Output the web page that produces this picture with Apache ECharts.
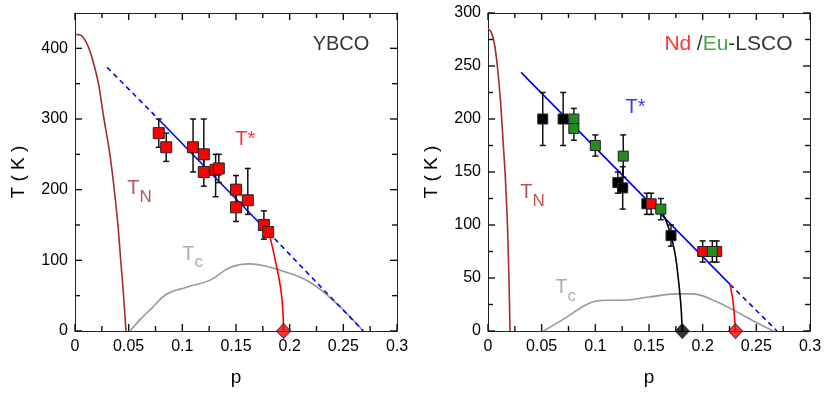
<!DOCTYPE html>
<html>
<head>
<meta charset="utf-8">
<script src="https://cdn.jsdelivr.net/npm/echarts@6/dist/echarts.min.js"></script>
<style>
  html, body { margin: 0; padding: 0; background: #fff; }
  #chart { width: 830px; height: 393px; }
</style>
</head>
<body>
<div id="chart"></div>
<script>
// tick values
var xMajorTicks = [0, 0.05, 0.1, 0.15, 0.2, 0.25, 0.3];
var xMinorTicks = [0.025, 0.075, 0.125, 0.175, 0.225, 0.275];
var yMajorLeft = [0, 100, 200, 300, 400];
var yMinorLeft = [50, 150, 250, 350];
var yMajorRight = [0, 50, 100, 150, 200, 250, 300];
var yMinorRight = [25, 75, 125, 175, 225, 275];

// ---- YBCO (left panel) ----
var ybcoP  = [0.078, 0.085, 0.110, 0.120, 0.120, 0.131, 0.134, 0.150, 0.150, 0.161, 0.176, 0.180];
var ybcoT  = [280, 260, 260, 250, 225, 228, 230, 200, 175, 185, 150, 140];
var ybcoLo = [260, 240, 225, 225, 205, 190, 210, 180, 155, 165, 130, 140];
var ybcoHi = [300, 280, 300, 300, 245, 250, 250, 220, 195, 230, 170, 140];
var ybcoDiamond = [[0.1944, 0]];
var ybcoStarDashA = [[0.030, 373], [0.0776, 300]];
var ybcoStarSolid = [[0.0776, 300], [0.180, 140]];
var ybcoStarDashB = [[0.180, 140], [0.2686, 0]];
var ybcoStarBend = [[0.180, 140], [0.183, 125], [0.1866, 100], [0.190, 75], [0.1925, 50], [0.1938, 25], [0.1944, 0]];
var ybcoTN = [[0, 420], [0.006, 418], [0.010, 410], [0.014, 396], [0.018, 375], [0.022, 349], [0.027, 300], [0.032, 255], [0.036, 208], [0.040, 150], [0.0426, 100], [0.045, 55], [0.0475, 0]];
var ybcoTc = [[0.0512, 0], [0.060, 15], [0.070, 30], [0.0854, 52], [0.104, 62], [0.126, 72], [0.1444, 90], [0.163, 95], [0.180, 91], [0.191, 86], [0.210, 76], [0.225, 63], [0.240, 44], [0.250, 30], [0.2686, 0]];

// ---- Nd / Eu-LSCO (right panel) ----
var blackP  = [0.051, 0.070, 0.121, 0.1255, 0.148, 0.1705];
var blackT  = [200, 200, 140, 135, 120, 90];
var blackLo = [175, 175, 130, 115, 110, 80];
var blackHi = [225, 225, 150, 155, 130, 100];
var redP  = [0.152, 0.200, 0.213];
var redT  = [120, 75, 75];
var redLo = [110, 65, 65];
var redHi = [130, 85, 85];
var greenP  = [0.080, 0.080, 0.100, 0.126, 0.161, 0.209];
var greenT  = [200, 191, 175, 165, 115, 75];
var greenLo = [190, 180, 165, 145, 105, 65];
var greenHi = [210, 200, 185, 185, 125, 85];
var lscoBlackDiamond = [[0.181, 0]];
var lscoRedDiamond = [[0.2306, 0]];
var lscoStarSolid = [[0.0308, 244], [0.2255, 44]];
var lscoStarDash = [[0.2255, 44], [0.2693, 0]];
var lscoStarBend = [[0.2255, 44], [0.228, 30], [0.2295, 15], [0.2306, 0]];
var lscoBlackBend = [[0.1609, 115], [0.1655, 105], [0.1705, 90], [0.1748, 70], [0.1784, 39], [0.180, 20], [0.181, 0]];
var lscoTN = [[0, 285], [0.003, 282], [0.006, 271], [0.0087, 250], [0.011, 225], [0.0128, 200], [0.0145, 172], [0.0159, 150], [0.0172, 122], [0.0183, 95], [0.0195, 50], [0.0205, 0]];
var lscoTc = [[0.0516, 0], [0.070, 11], [0.090, 24], [0.100, 28], [0.110, 29], [0.126, 29], [0.150, 32], [0.175, 35], [0.190, 35], [0.210, 29], [0.230, 19], [0.250, 8], [0.266, 0]];

var FONT = "'Liberation Sans', Arial, Helvetica, sans-serif";
var RED = '#ff0000', GREEN = '#228b22', BLUE = '#0000ff', BROWN = '#a52a2a', GRAY = '#999999';
var AXIS = '#222';

function zip(p, t) { return p.map(function (v, i) { return [v, t[i]]; }); }
function zip3(p, lo, hi) { return p.map(function (v, i) { return [v, lo[i], hi[i]]; }); }

function xAx(grid, top) {
  return {
    type: 'value', gridIndex: grid, position: top ? 'top' : 'bottom',
    min: 0, max: 0.3, interval: 0.05,
    axisLine: { show: true, onZero: false, lineStyle: { color: AXIS, width: 1 } },
    axisTick: { show: false },
    splitLine: { show: false },
    axisLabel: top ? { show: false } : {
      show: true, color: '#000', fontSize: 16, fontFamily: FONT, margin: 8,
      formatter: function (v) {
        var hit = xMajorTicks.filter(function (t) { return Math.abs(t - v) < 1e-9; });
        return hit.length ? String(hit[0]) : '';
      }
    },
    name: top ? '' : 'p', nameLocation: 'middle', nameGap: 37,
    nameTextStyle: { color: '#000', fontSize: 19, fontFamily: FONT }
  };
}
function yAx(grid, right, max, interval) {
  return {
    type: 'value', gridIndex: grid, position: right ? 'right' : 'left',
    min: 0, max: max, interval: interval,
    axisLine: { show: true, onZero: false, lineStyle: { color: AXIS, width: 1 } },
    axisTick: { show: false },
    splitLine: { show: false },
    axisLabel: right ? { show: false } : {
      show: true, color: '#000', fontSize: 16, fontFamily: FONT, margin: 7,
      showMaxLabel: max % interval === 0
    },
    name: right ? '' : 'T ( K )', nameLocation: 'middle', nameGap: 47, nameRotate: 90,
    nameTextStyle: { color: '#000', fontSize: 19, fontFamily: FONT }
  };
}

// inward ticks on all four sides, placed through the axes' own scales
function tickS(xi, yMax, xMaj, xMin, yMaj, yMin) {
  var data = [];
  xMaj.forEach(function (v) { data.push([v, 0, 7, 0]); });
  xMin.forEach(function (v) { data.push([v, 0, 5, 0]); });
  yMaj.forEach(function (v) { data.push([0, v, 7, 1]); });
  yMin.forEach(function (v) { data.push([0, v, 5, 1]); });
  return {
    type: 'custom', xAxisIndex: xi, yAxisIndex: xi, data: data, silent: true, z: 7,
    clip: false,
    renderItem: function (params, api) {
      var L = api.value(2), isY = api.value(3);
      var st = { stroke: '#111', lineWidth: 1.4 };
      var a, b;
      if (!isY) {
        var v = api.value(0);
        a = api.coord([v, 0]); b = api.coord([v, yMax]);
        return { type: 'group', children: [
          { type: 'line', shape: { x1: a[0], y1: a[1], x2: a[0], y2: a[1] - L }, style: st },
          { type: 'line', shape: { x1: b[0], y1: b[1], x2: b[0], y2: b[1] + L }, style: st }
        ] };
      }
      var w = api.value(1);
      a = api.coord([0, w]); b = api.coord([0.3, w]);
      return { type: 'group', children: [
        { type: 'line', shape: { x1: a[0], y1: a[1], x2: a[0] + L, y2: a[1] }, style: st },
        { type: 'line', shape: { x1: b[0], y1: b[1], x2: b[0] - L, y2: b[1] }, style: st }
      ] };
    }
  };
}

function lineS(xi, data, color, dashed, smooth, z) {
  return {
    type: 'line', xAxisIndex: xi, yAxisIndex: xi, data: data, showSymbol: false,
    symbol: 'none', smooth: smooth || false, silent: true, z: z || 2,
    lineStyle: { color: color, width: 1.6, type: dashed ? [5, 4] : 'solid' }
  };
}
function errS(xi, data) {
  return {
    type: 'custom', xAxisIndex: xi, yAxisIndex: xi, data: data, silent: true, z: 3,
    renderItem: function (params, api) {
      var x = api.value(0), lo = api.value(1), hi = api.value(2);
      if (lo === hi) return null;
      var a = api.coord([x, hi]), b = api.coord([x, lo]);
      var st = { stroke: '#111', lineWidth: 1.5 };
      return {
        type: 'group', children: [
          { type: 'line', shape: { x1: a[0], y1: a[1], x2: b[0], y2: b[1] }, style: st },
          { type: 'line', shape: { x1: a[0] - 3, y1: a[1], x2: a[0] + 3, y2: a[1] }, style: st },
          { type: 'line', shape: { x1: b[0] - 3, y1: b[1], x2: b[0] + 3, y2: b[1] }, style: st }
        ]
      };
    }
  };
}
function sqS(xi, data, color, size) {
  return {
    type: 'scatter', xAxisIndex: xi, yAxisIndex: xi, data: data, symbol: 'rect',
    symbolSize: size, silent: true, z: 4,
    itemStyle: { color: color, borderColor: '#222', borderWidth: 1, opacity: 1 }
  };
}
function diaS(xi, data, color) {
  return {
    type: 'scatter', xAxisIndex: xi, yAxisIndex: xi, data: data, symbol: 'diamond',
    symbolSize: [14, 15], silent: true, z: 8, clip: false,
    itemStyle: { color: color, borderColor: '#222', borderWidth: 1 }
  };
}
function textS(xi, x, y, text, rich) {
  return {
    type: 'scatter', xAxisIndex: xi, yAxisIndex: xi, data: [[x, y]], symbolSize: 1,
    silent: true, z: 6, itemStyle: { color: 'rgba(0,0,0,0)' },
    label: {
      show: true, position: [0, 0], align: 'center', verticalAlign: 'middle',
      formatter: text, color: '#000', fontSize: 20, fontFamily: FONT,
      textBorderWidth: 0, rich: rich
    }
  };
}
var subRich = function (color, subSize) {
  return {
    a: { color: color, fontSize: 20, fontFamily: FONT, padding: [0, 0, 7, 0], verticalAlign: 'bottom' },
    b: { color: color, fontSize: subSize, fontFamily: FONT, verticalAlign: 'bottom' }
  };
};
var kRich = { k: { color: '#000', fontSize: 20, fontFamily: FONT } };

var chart = echarts.init(document.getElementById('chart'));
chart.setOption({
  backgroundColor: '#fff',
  animation: false,
  grid: [
    { left: 75, right: 433, top: 13, bottom: 62 },
    { left: 488, right: 20, top: 13, bottom: 62 }
  ],
  xAxis: [xAx(0, false), xAx(0, true), xAx(1, false), xAx(1, true)],
  yAxis: [yAx(0, false, 450, 100), yAx(0, true, 450, 100), yAx(1, false, 300, 50), yAx(1, true, 300, 50)],
  series: [
    // left panel
    tickS(0, 450, xMajorTicks, xMinorTicks, yMajorLeft, yMinorLeft),
    lineS(0, ybcoTN, BROWN, false, 0.3),
    lineS(0, ybcoTc, GRAY, false, 0.4),
    lineS(0, ybcoStarDashA, BLUE, true),
    lineS(0, ybcoStarSolid, BLUE, false),
    lineS(0, ybcoStarDashB, BLUE, true),
    lineS(0, ybcoStarBend, RED, false, 0.3),
    errS(0, zip3(ybcoP, ybcoLo, ybcoHi)),
    sqS(0, zip(ybcoP, ybcoT), RED, 11),
    diaS(0, ybcoDiamond, RED),
    textS(0, 0.2483, 405, '{k|YBCO}', kRich),
    textS(0, 0.159, 271, '{a|T*}', { a: { color: RED, fontSize: 20, fontFamily: FONT } }),
    textS(0, 0.0606, 196, '{a|T}{b|N}', subRich(BROWN, 17)),
    textS(0, 0.110, 103, '{a|T}{b|c}', subRich(GRAY, 17)),
    // right panel
    tickS(2, 300, xMajorTicks, xMinorTicks, yMajorRight, yMinorRight),
    lineS(2, lscoTN, BROWN, false, 0.3),
    lineS(2, lscoTc, GRAY, false, 0.4),
    lineS(2, lscoStarSolid, BLUE, false),
    lineS(2, lscoStarDash, BLUE, true),
    lineS(2, lscoStarBend, RED, false, 0.3),
    lineS(2, lscoBlackBend, '#000', false, 0.3),
    errS(2, zip3(blackP, blackLo, blackHi)),
    errS(2, zip3(redP, redLo, redHi)),
    errS(2, zip3(greenP, greenLo, greenHi)),
    sqS(2, zip(blackP, blackT), '#000', 10),
    sqS(2, zip(redP, redT), RED, 10),
    sqS(2, zip(greenP, greenT), GREEN, 10),
    diaS(2, lscoBlackDiamond, '#000'),
    diaS(2, lscoRedDiamond, RED),
    textS(2, 0.2245, 270, '{r|Nd} {k|/}{g|Eu}{k|-LSCO}', {
      r: { color: RED, fontSize: 21, fontFamily: FONT },
      g: { color: GREEN, fontSize: 21, fontFamily: FONT },
      k: { color: '#000', fontSize: 21, fontFamily: FONT }
    }),
    textS(2, 0.138, 210, '{a|T*}', { a: { color: BLUE, fontSize: 20, fontFamily: FONT } }),
    textS(2, 0.042, 127, '{a|T}{b|N}', subRich(BROWN, 17)),
    textS(2, 0.0727, 37, '{a|T}{b|c}', subRich(GRAY, 17))
  ]
});
</script>
</body>
</html>
